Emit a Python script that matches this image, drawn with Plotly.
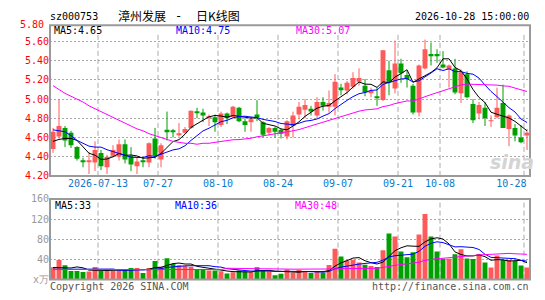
import plotly.graph_objects as go

# ---------------- data ----------------
opens = [4.48, 4.61, 4.70, 4.65, 4.50, 4.36, 4.35, 4.34, 4.44, 4.29,
         4.41, 4.40, 4.53, 4.41, 4.30, 4.36, 4.34, 4.59, 4.37, 4.68,
         4.67, 4.63, 4.65, 4.70, 4.87, 4.86, 4.81, 4.81, 4.73, 4.85,
         4.81, 4.91, 4.77, 4.76, 4.84, 4.76, 4.65, 4.70, 4.68, 4.61,
         4.72, 4.84, 4.89, 4.90, 4.83, 4.97, 4.92, 4.92, 5.12, 5.09,
         5.13, 5.18, 5.14, 5.06, 5.03, 4.99, 5.30, 5.11, 5.37, 5.25,
         5.14, 4.86, 5.32, 5.47, 5.47, 5.36, 5.31, 5.32, 5.06, 5.26,
         4.95, 4.85, 4.91, 4.77, 4.81, 4.96, 4.69, 4.70, 4.60, 4.62]
highs = [4.70, 5.00, 4.72, 4.67, 4.51, 4.39, 4.45, 4.56, 4.47, 4.42,
         4.52, 4.58, 4.58, 4.50, 4.40, 4.39, 4.55, 4.70, 4.54, 4.87,
         4.69, 4.75, 4.71, 4.88, 4.91, 4.90, 4.84, 4.84, 4.87, 4.86,
         4.93, 4.92, 4.80, 4.82, 4.99, 4.77, 4.71, 4.71, 4.69, 4.78,
         4.87, 4.97, 5.00, 4.93, 5.02, 5.02, 5.09, 5.26, 5.16, 5.19,
         5.28, 5.32, 5.21, 5.12, 5.12, 5.51, 5.40, 5.61, 5.42, 5.29,
         5.16, 5.36, 5.62, 5.59, 5.52, 5.50, 5.36, 5.42, 5.31, 5.29,
         5.00, 4.97, 4.97, 4.83, 5.12, 5.15, 4.84, 4.74, 4.73, 4.69]
lows = [4.44, 4.59, 4.50, 4.49, 4.36, 4.29, 4.22, 4.25, 4.26, 4.22,
        4.39, 4.36, 4.33, 4.25, 4.22, 4.29, 4.29, 4.38, 4.29, 4.57,
        4.60, 4.61, 4.64, 4.69, 4.80, 4.76, 4.72, 4.66, 4.71, 4.74,
        4.80, 4.76, 4.66, 4.66, 4.77, 4.60, 4.62, 4.60, 4.59, 4.58,
        4.60, 4.79, 4.80, 4.83, 4.80, 4.88, 4.86, 4.83, 5.04, 5.05,
        5.11, 5.14, 5.03, 5.02, 4.93, 4.98, 5.04, 5.06, 5.17, 5.12,
        4.84, 4.82, 5.31, 5.35, 5.38, 5.32, 5.12, 5.05, 4.96, 5.01,
        4.75, 4.79, 4.72, 4.71, 4.80, 4.70, 4.51, 4.56, 4.54, 4.47]
closes = [4.66, 4.72, 4.57, 4.52, 4.38, 4.35, 4.36, 4.47, 4.30, 4.40,
          4.47, 4.53, 4.37, 4.32, 4.35, 4.35, 4.54, 4.41, 4.52, 4.66,
          4.66, 4.64, 4.69, 4.88, 4.86, 4.83, 4.82, 4.76, 4.85, 4.80,
          4.92, 4.77, 4.73, 4.79, 4.82, 4.63, 4.70, 4.66, 4.64, 4.77,
          4.83, 4.92, 4.94, 4.87, 4.97, 4.93, 4.96, 5.18, 5.10, 5.17,
          5.22, 5.22, 5.07, 5.09, 5.01, 5.51, 5.17, 5.37, 5.27, 5.21,
          4.86, 5.35, 5.52, 5.45, 5.45, 5.33, 5.35, 5.07, 5.28, 5.02,
          4.78, 4.94, 4.80, 4.78, 4.91, 4.70, 4.83, 4.62, 4.55, 4.65]
volumes = [24.4, 38.7, 28.3, 17.2, 17.2, 15.3, 16.0, 25.0, 17.2, 17.2,
           17.0, 17.0, 21.0, 23.0, 23.0, 13.3, 23.0, 36.7, 25.7, 42.6,
           30.9, 28.3, 27.0, 25.7, 19.8, 21.0, 17.9, 17.9, 16.6, 12.0,
           14.6, 17.9, 16.0, 15.3, 24.4, 19.2, 16.6, 8.8, 11.4, 19.8,
           14.0, 19.2, 16.6, 13.3, 16.0, 14.0, 29.0, 61.4, 45.8, 38.0,
           39.3, 34.0, 29.6, 27.0, 25.0, 58.0, 91.3, 85.5, 56.0, 44.5,
           54.3, 89.4, 130.0, 85.5, 56.0, 41.3, 41.3, 50.4, 60.0, 42.0,
           41.0, 51.0, 34.0, 24.0, 48.0, 39.0, 39.0, 37.0, 28.0, 24.0]

# moving-average values at the left edge (depend on days before the window)
ma5_head = [4.56, 4.58, 4.59, 4.59]
ma10_head = [4.68, 4.67, 4.66, 4.62, 4.57, 4.54, 4.51, 4.50, 4.50]
ma30_head = [5.14, 5.10, 5.06, 5.03, 5.00, 4.97, 4.93, 4.90, 4.87, 4.84,
             4.81, 4.78, 4.75, 4.72, 4.69, 4.67, 4.64, 4.62, 4.60, 4.58,
             4.56, 4.55, 4.54, 4.54, 4.53, 4.54, 4.54, 4.55, 4.56]
vma5_head = [24.0, 24.0, 23.5, 23.0]
vma10_head = [20.5, 20.5, 20.5, 20.5, 20.5, 20.5, 20.5, 20.5, 21.0]
vma30_head = [20.0] * 29

# legend texts as printed on the chart
price_legend = ["MA5:4.65", "MA10:4.75", "MA30:5.07"]
volume_legend = ["MA5:33", "MA10:36", "MA30:48"]

tick_labels = ["2026-07-13", "07-27", "08-10", "08-24", "09-07", "09-21", "10-08", "10-28"]
tick_index = [8, 18, 28, 38, 48, 58, 65, 79]
price_ticks = [4.20, 4.40, 4.60, 4.80, 5.00, 5.20, 5.40, 5.60]
price_top_label = "5.80"
vol_ticks = [0, 40, 80, 120, 160]
vol_tick_text = ["x万", "40", "80", "120", "160"]

# ---------------- helpers ----------------
def moving_avg(vals, p, head):
    out = []
    for k in range(len(vals)):
        if k < p - 1:
            out.append(head[k])
        else:
            out.append(sum(vals[k - p + 1:k + 1]) / p)
    return out

n = len(closes)
idx = list(range(n))
RED = "#ff5a5a"
GREEN = "#00a000"
up = [c >= o for o, c in zip(opens, closes)]
colors = [RED if u else GREEN for u in up]
MONO = "DejaVu Sans Mono"
CJK = "Noto Sans CJK SC"
LEG_COLORS = ["#000000", "#0000ff", "#ff00ff"]

ma5 = moving_avg(closes, 5, ma5_head)
ma10 = moving_avg(closes, 10, ma10_head)
ma30 = moving_avg(closes, 30, ma30_head)
vma5 = moving_avg(volumes, 5, vma5_head)
vma10 = moving_avg(volumes, 10, vma10_head)
vma30 = moving_avg(volumes, 30, vma30_head)

fig = go.Figure()

# wicks
for flag, col in [(True, RED), (False, GREEN)]:
    wx, wy = [], []
    for k in idx:
        if up[k] == flag:
            wx += [k, k, None]
            wy += [lows[k], highs[k], None]
    fig.add_trace(go.Scatter(x=wx, y=wy, mode="lines", line=dict(color=col, width=1),
                             hoverinfo="skip", xaxis="x", yaxis="y"))

# bodies
bases = [min(o, c) for o, c in zip(opens, closes)]
heights = [max(abs(c - o), 0.01) for o, c in zip(opens, closes)]
fig.add_trace(go.Bar(x=idx, y=heights, base=bases, marker=dict(color=colors, line=dict(width=0)),
                     width=0.82, xaxis="x", yaxis="y"))

for series, col in zip([ma5, ma10, ma30], LEG_COLORS):
    fig.add_trace(go.Scatter(x=idx, y=series, mode="lines", line=dict(color=col, width=1),
                             xaxis="x", yaxis="y", hoverinfo="skip"))

# volume
fig.add_trace(go.Bar(x=idx, y=volumes, marker=dict(color=colors, line=dict(width=0)),
                     width=0.82, xaxis="x2", yaxis="y2"))
for series, col in zip([vma5, vma10, vma30], LEG_COLORS):
    fig.add_trace(go.Scatter(x=idx, y=series, mode="lines", line=dict(color=col, width=1),
                             xaxis="x2", yaxis="y2", hoverinfo="skip"))

W, H = 545, 300
xdom = [50 / W, 530 / W]
GRID = "#aaaaaa"
MAIN_TOP_PX, MAIN_BOT_PX = 20, 177
price_lo = 4.2
price_hi = price_lo + (MAIN_BOT_PX - MAIN_TOP_PX) * 0.2 / 20  # 20 px per 0.20

shapes = []
for t in tick_index:
    shapes.append(dict(type="line", xref="x", yref="y", x0=t - 0.5, x1=t - 0.5, y0=price_lo, y1=price_hi - 0.09,
                       line=dict(color=GRID, width=1, dash="5px,3px"), layer="below"))
    shapes.append(dict(type="line", xref="x2", yref="y2", x0=t - 0.5, x1=t - 0.5, y0=0, y1=160,
                       line=dict(color=GRID, width=1, dash="5px,3px"), layer="below"))
shapes.append(dict(type="rect", xref="x domain", yref="y domain", x0=0, x1=1, y0=0, y1=1,
                   line=dict(color="#9a9a9a", width=2)))
shapes.append(dict(type="rect", xref="x2 domain", yref="y2 domain", x0=0, x1=1, y0=0, y1=1,
                   line=dict(color="#9a9a9a", width=2)))

# label positions: centred on the dashed line, last one pulled inside the frame
label_pos = [t - 0.5 for t in tick_index]
label_pos[-1] -= 2.1

def ann(text, x, y, color="#000", size=10, xanchor="left", family=MONO, **kw):
    return dict(text=text, x=x / W, y=1 - y / H, xref="paper", yref="paper", showarrow=False,
                xanchor=xanchor, yanchor="middle", font=dict(family=family, size=size, color=color), **kw)

annotations = [
    ann("sz000753", 48, 11),
    ann("漳州发展", 168, 10, size=12, xanchor="right", family=CJK),
    ann("-", 178.5, 10, size=12, xanchor="center", family=MONO),
    ann("日K线图", 194, 10, size=12, xanchor="left", family=CJK),
    ann("2026-10-28 15:00:00", 531, 11, xanchor="right"),
    ann(price_top_label, 46, 19, color="#ff0000", xanchor="right"),
    ann("Copyright 2026 SINA.COM", 48, 292, color="#555"),
    ann("http://finance.sina.com.cn", 531, 292, color="#555", xanchor="right"),
    dict(text="<b><i>sina</i></b>", x=512 / W, y=1 - 163 / H, xref="paper", yref="paper",
         showarrow=False, xanchor="center", yanchor="middle",
         font=dict(family="DejaVu Sans", size=19, color="#d4d4d4")),
]
for txt, col, xp in zip(price_legend, LEG_COLORS, [52, 174, 294]):
    annotations.append(ann(txt, xp, 26, color=col))
for txt, col, xp in zip(volume_legend, LEG_COLORS, [53, 173, 293]):
    annotations.append(ann(txt, xp, 208, color=col))

fig.update_layout(
    width=W, height=H, margin=dict(l=0, r=0, t=0, b=0),
    paper_bgcolor="white", plot_bgcolor="white", showlegend=False, barmode="overlay",
    xaxis=dict(domain=xdom, range=[-0.5, n - 0.5], anchor="y", showgrid=False, zeroline=False,
               showline=False, ticks="", tickvals=label_pos, ticktext=tick_labels,
               tickfont=dict(family=MONO, size=10, color="#0a7acc"), tickangle=0, fixedrange=True),
    yaxis=dict(domain=[1 - MAIN_BOT_PX / H, 1 - MAIN_TOP_PX / H], range=[price_lo, price_hi],
               anchor="x", zeroline=False,
               tickvals=price_ticks, ticktext=[f"{v:.2f}" for v in price_ticks],
               tickfont=dict(family=MONO, size=10, color="#ff0000"), ticks="",
               showgrid=True, gridcolor=GRID, griddash="2px,2px", gridwidth=1),
    xaxis2=dict(domain=xdom, range=[-0.5, n - 0.5], anchor="y2", showgrid=False, zeroline=False,
                showline=False, showticklabels=False, ticks=""),
    yaxis2=dict(domain=[1 - 285 / H, 1 - 201 / H], range=[0, 160], anchor="x2", zeroline=False,
                tickvals=vol_ticks, ticktext=vol_tick_text,
                tickfont=dict(family=MONO, size=10, color="#999999"), ticks="",
                showgrid=True, gridcolor=GRID, griddash="2px,2px", gridwidth=1),
    shapes=shapes, annotations=annotations,
)

fig.write_html("out.html", post_script="document.body.style.margin='0';document.documentElement.style.overflow='hidden';")
